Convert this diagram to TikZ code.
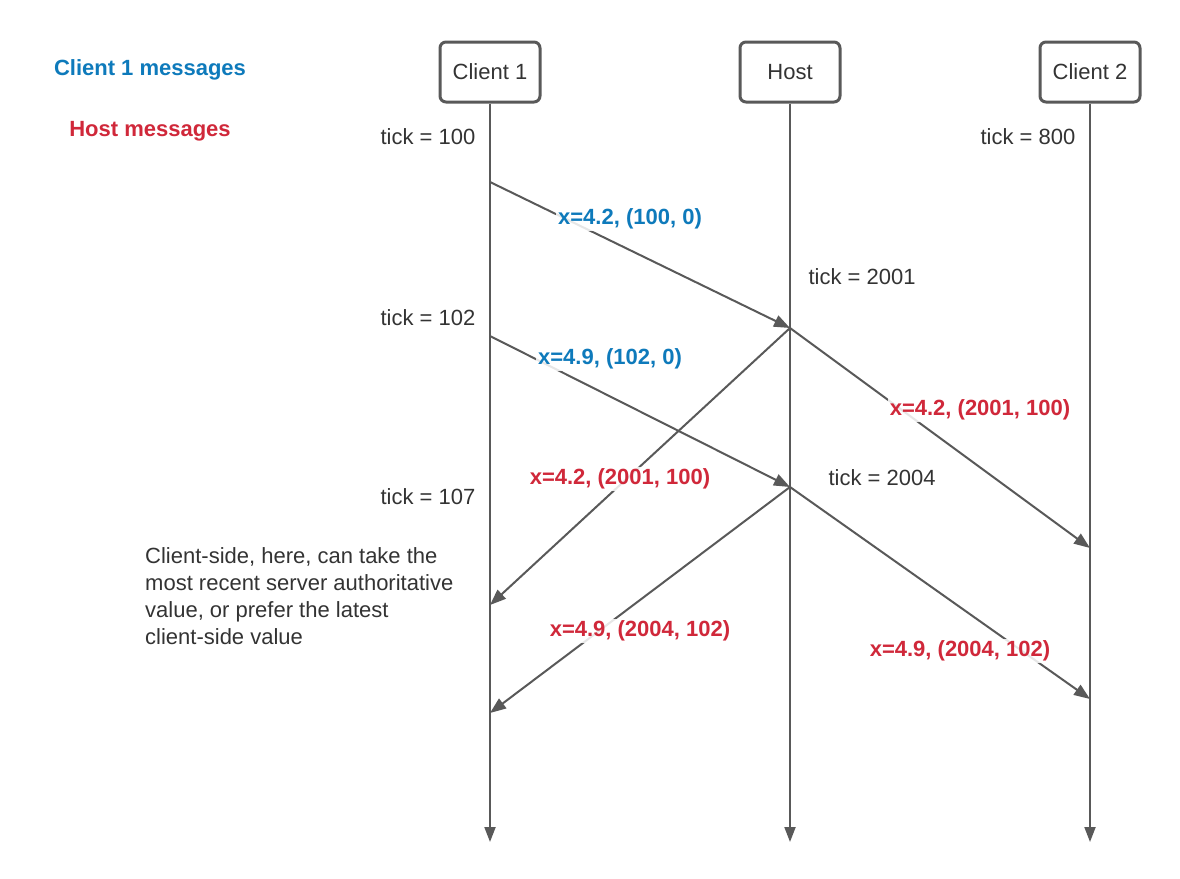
\documentclass[tikz,border=0pt]{standalone}
\usepackage{fontspec}
\setmainfont{Liberation Sans}
\usepackage{tikz}
\usetikzlibrary{arrows.meta}
\definecolor{linegray}{RGB}{89,89,89}
\definecolor{txtgray}{RGB}{51,51,51}
\definecolor{cblue}{RGB}{14,122,187}
\definecolor{hred}{RGB}{208,40,58}
\newcommand{\CLI}[1]{\textcolor{cblue}{\textbf{#1}}}
\newcommand{\HST}[1]{\textcolor{hred}{\textbf{#1}}}

\begin{document}
\begin{tikzpicture}[x=1pt, y=-1pt,
  actor/.style={draw=linegray, line width=3pt, rounded corners=6pt, fill=white,
    minimum width=100pt, minimum height=60pt, text=txtgray},
  life/.style={draw=linegray, line width=2pt, -{Triangle[length=15pt,width=11pt]}},
  msg/.style={draw=linegray, line width=2pt, -{Triangle[length=16pt,width=12pt]}},
  lbl/.style={fill=white, fill opacity=0.85, text opacity=1, inner sep=2pt},
  note/.style={text=txtgray}]

  \fontsize{22}{27}\selectfont
  \useasboundingbox (0,0) rectangle (1180,878);

  % legend
  \node (leg1) at (150,70) {\CLI{Client 1 messages}};
  \node (leg2) at (150,131) {\HST{Host messages}};

  % actors
  \node[actor] (c1) at (490,72) {Client 1};
  \node[actor] (h) at (790,72) {Host};
  \node[actor] (c2) at (1090,72) {Client 2};

  \coordinate (c1end) at (490,842);
  \coordinate (hend) at (790,842);
  \coordinate (c2end) at (1090,842);

  \draw[life] (c1) -- (c1end);
  \draw[life] (h) -- (hend);
  \draw[life] (c2) -- (c2end);

  % events on the lifelines
  \coordinate (c1a) at (490,182);
  \coordinate (c1b) at (490,336);
  \coordinate (c1c) at (490,605);
  \coordinate (c1d) at (490,713);
  \coordinate (ha) at (790,328);
  \coordinate (hb) at (790,487);
  \coordinate (c2a) at (1090,548);
  \coordinate (c2b) at (1090,699);

  % ticks
  \node[note] (t100) at (428,137) {tick = 100};
  \node[note] (t800) at (1028,137) {tick = 800};
  \node[note] (t2001) at (862,277) {tick = 2001};
  \node[note] (t102) at (428,318) {tick = 102};
  \node[note] (t2004) at (882,478) {tick = 2004};
  \node[note] (t107) at (428,497) {tick = 107};

  % messages
  \draw[msg] (c1a) -- (ha); % C1->H
  \draw[msg] (ha) -- (c2a); % H->C2
  \draw[msg] (ha) -- (c1c); % H->C1
  \draw[msg] (c1b) -- (hb); % C1->H
  \draw[msg] (hb) -- (c2b); % H->C2
  \draw[msg] (hb) -- (c1d); % H->C1

  \node[lbl] (m1) at (630,219) {\CLI{x=4.2, (100, 0)}};
  \node[lbl] (m2) at (980,410) {\HST{x=4.2, (2001, 100)}};
  \node[lbl] (m3) at (620,479) {\HST{x=4.2, (2001, 100)}};
  \node[lbl] (m4) at (610,359) {\CLI{x=4.9, (102, 0)}};
  \node[lbl] (m5) at (960,651) {\HST{x=4.9, (2004, 102)}};
  \node[lbl] (m6) at (640,631) {\HST{x=4.9, (2004, 102)}};

  % remark
  \node[note, anchor=north west, align=left, inner sep=0pt] (rem) at (145,547)
    {Client-side, here, can take the\\most recent server authoritative\\value, or prefer the latest\\client-side value};

\end{tikzpicture}
\end{document}
